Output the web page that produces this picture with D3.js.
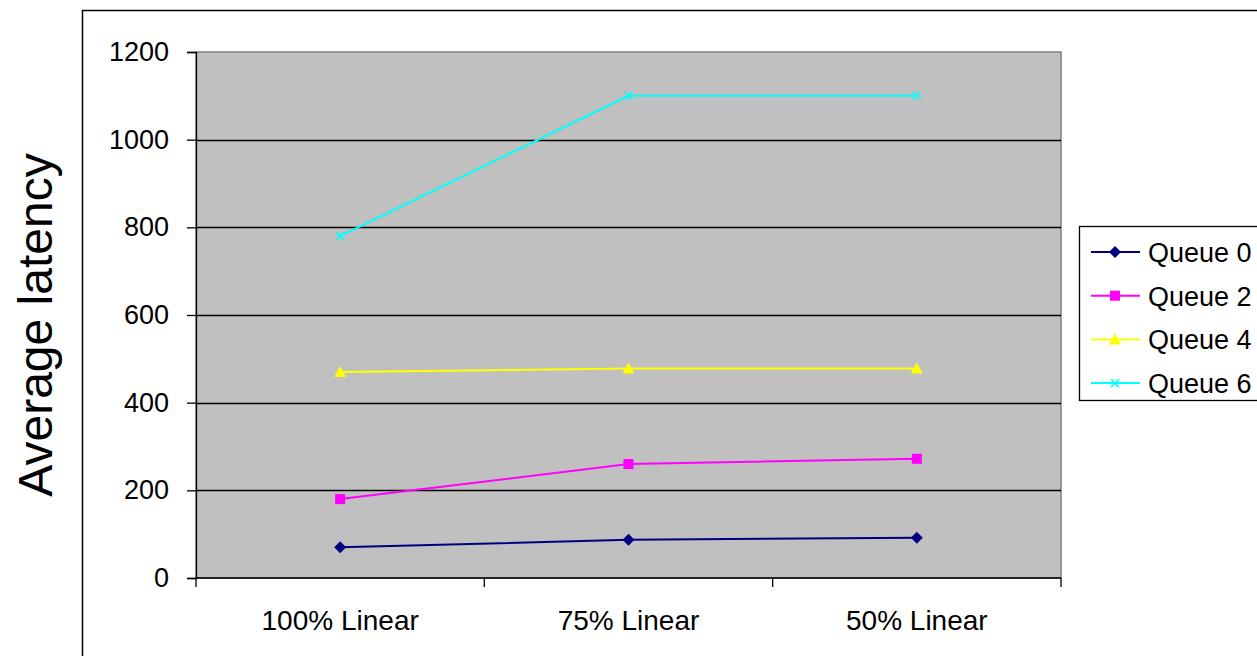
<!DOCTYPE html>
<html>
<head>
<meta charset="utf-8">
<script src="https://cdn.jsdelivr.net/npm/d3@7"></script>
<style>
  body { margin: 0; background: #fff; }
  svg { display: block; font-family: "Liberation Sans", Arial, sans-serif; }
</style>
</head>
<body>
<div id="chart-area"></div>
<script>
// chart data
var categories = ["100% Linear", "75% Linear", "50% Linear"];
var seriesNames = ["Queue 0", "Queue 2", "Queue 4", "Queue 6"];
var queue0 = [70, 87, 92];
var queue2 = [180, 260, 272];
var queue4 = [470, 478, 478];
var queue6 = [780, 1100, 1100];
var yTicks = [0, 200, 400, 600, 800, 1000, 1200];

var colors = ["#000080", "#ff00ff", "#ffff00", "#00ffff"];
var shapes = ["diamond", "square", "triangle", "cross"];
var allSeries = [queue0, queue2, queue4, queue6];

var W = 1257, H = 656;
var margin = { left: 196, top: 52, right: 1257 - 1061, bottom: 656 - 578 };
var width = W - margin.left - margin.right;
var height = H - margin.top - margin.bottom;

var svg = d3.select("#chart-area").append("svg")
    .attr("width", W).attr("height", H);

// outer chart border
svg.append("rect")
    .attr("x", 82.5).attr("y", 10.5)
    .attr("width", 1300).attr("height", 800)
    .attr("fill", "none").attr("stroke", "#000").attr("stroke-width", 1.5);

var g = svg.append("g")
    .attr("transform", "translate(" + margin.left + "," + margin.top + ")");

var x = d3.scaleBand().domain(categories).range([0, width]);
var y = d3.scaleLinear().domain([0, 1200]).range([height, 0]);

// plot background
g.append("rect")
    .attr("width", width).attr("height", height)
    .attr("fill", "#c0c0c0")
    .attr("stroke", "#808080").attr("stroke-width", 1.5);

// gridlines
g.selectAll(".grid")
    .data(yTicks.filter(function (d) { return d > 0 && d < 1200; }))
    .enter().append("line")
    .attr("x1", 0).attr("x2", width)
    .attr("y1", function (d) { return Math.round(y(d)) + 0.5; })
    .attr("y2", function (d) { return Math.round(y(d)) + 0.5; })
    .attr("stroke", "#000").attr("stroke-width", 1.3);

// y axis
var yAxis = d3.axisLeft(y).tickValues(yTicks).tickSize(9).tickPadding(18)
    .tickFormat(d3.format("d"));
var yAxisGroup = g.append("g").call(yAxis)
    .attr("font-size", 27).attr("font-family", "Liberation Sans, Arial, sans-serif");
yAxisGroup.selectAll("text").attr("fill", "#000");
yAxisGroup.selectAll(".tick line").attr("stroke-width", 1.3);
yAxisGroup.select(".domain").attr("stroke", "#000").attr("stroke-width", 1.3);

// x axis with ticks on category boundaries
var xAxisGroup = g.append("g").attr("transform", "translate(0," + height + ")");
xAxisGroup.append("line")
    .attr("x1", 0).attr("x2", width)
    .attr("stroke", "#000").attr("stroke-width", 1.3);
var bounds = categories.map(function (c) { return x(c); }).concat([width]);
xAxisGroup.selectAll(".xt").data(bounds).enter().append("line")
    .attr("x1", function (d) { return d; }).attr("x2", function (d) { return d; })
    .attr("y1", 0).attr("y2", 9)
    .attr("stroke", "#000").attr("stroke-width", 1.3);
xAxisGroup.selectAll(".xl").data(categories).enter().append("text")
    .attr("x", function (d) { return x(d) + x.bandwidth() / 2; })
    .attr("y", 52)
    .attr("text-anchor", "middle")
    .attr("font-size", 28)
    .text(function (d) { return d; });

// y title
svg.append("text")
    .attr("transform", "translate(52,325) rotate(-90)")
    .attr("text-anchor", "middle")
    .attr("font-size", 48)
    .text("Average latency");

function drawMarker(sel, shape, color) {
  if (shape === "diamond") {
    sel.append("path").attr("d", "M0,-6L6,0L0,6L-6,0Z").attr("fill", color);
  } else if (shape === "square") {
    sel.append("rect").attr("x", -5).attr("y", -5).attr("width", 10).attr("height", 10).attr("fill", color);
  } else if (shape === "triangle") {
    sel.append("path").attr("d", "M0,-6L6,5L-6,5Z").attr("fill", color);
  } else {
    sel.append("path").attr("d", "M-4,-4L4,4M-4,4L4,-4").attr("stroke", color).attr("stroke-width", 1.5);
  }
}

var line = d3.line()
    .x(function (d, i) { return x(categories[i]) + x.bandwidth() / 2; })
    .y(function (d) { return y(d); });

allSeries.forEach(function (vals, s) {
  g.append("path").datum(vals)
      .attr("d", line)
      .attr("fill", "none")
      .attr("stroke", colors[s]).attr("stroke-width", 2);
  vals.forEach(function (v, i) {
    var m = g.append("g").attr("transform",
        "translate(" + (x(categories[i]) + x.bandwidth() / 2) + "," + y(v) + ")");
    drawMarker(m, shapes[s], colors[s]);
  });
});

// legend
var legend = svg.append("g").attr("transform", "translate(1079,226)");
legend.append("rect")
    .attr("x", 0.5).attr("y", 0.5).attr("width", 300).attr("height", 174)
    .attr("fill", "#fff").attr("stroke", "#000").attr("stroke-width", 1.3);
seriesNames.forEach(function (name, s) {
  var row = legend.append("g").attr("transform", "translate(0," + (26 + s * 43.7) + ")");
  row.append("line").attr("x1", 12).attr("x2", 61)
      .attr("stroke", colors[s]).attr("stroke-width", 2);
  drawMarker(row.append("g").attr("transform", "translate(36,0)"), shapes[s], colors[s]);
  row.append("text").attr("x", 69).attr("y", 10)
      .attr("font-size", 27).text(name);
});
</script>
</body>
</html>
